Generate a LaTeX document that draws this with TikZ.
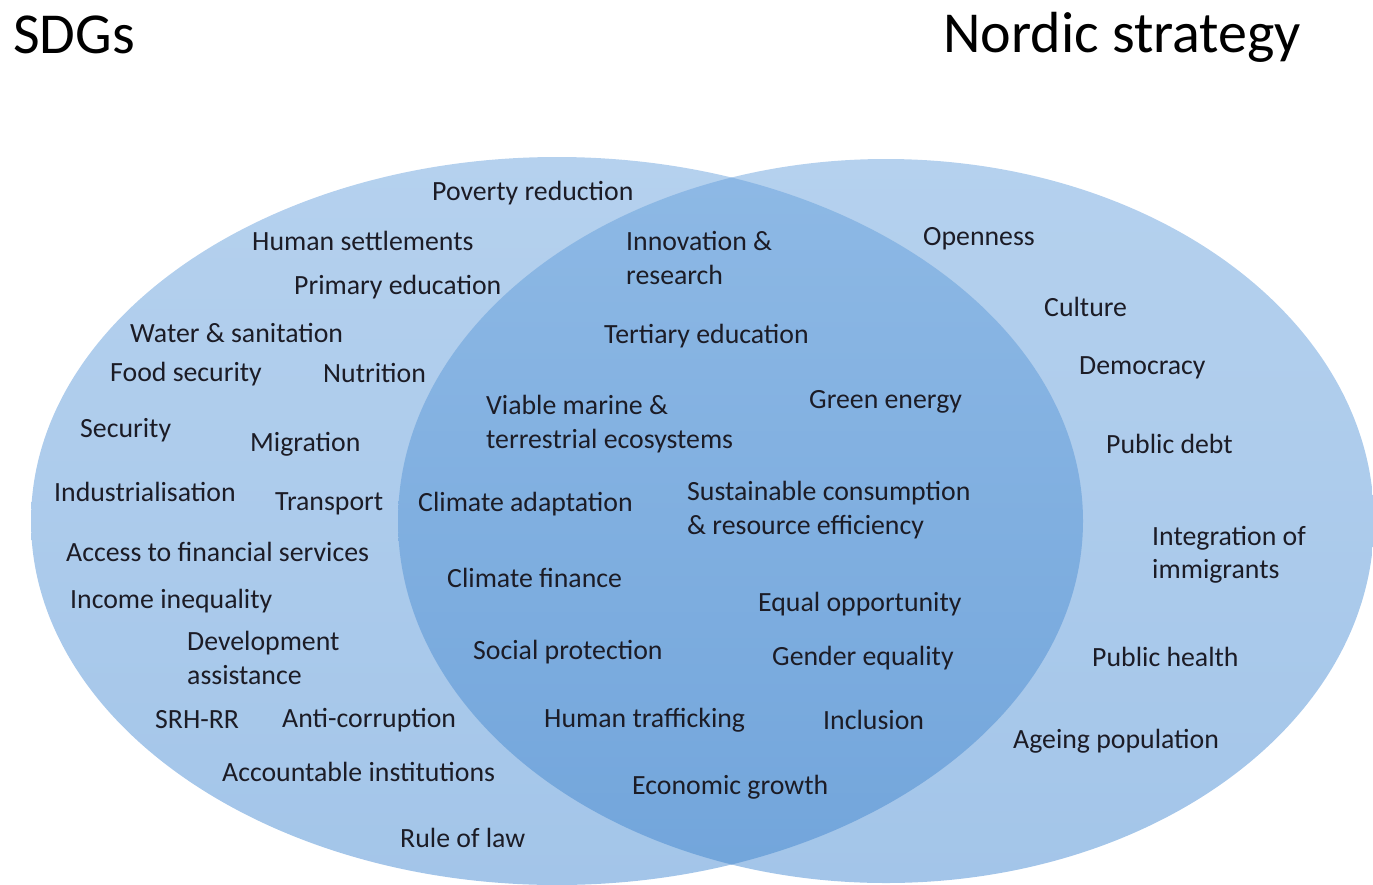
\documentclass[tikz,border=0pt]{standalone}
\usepackage{fontspec}
\setmainfont{Carlito}
\definecolor{lefttop}{RGB}{181,209,238}
\definecolor{leftbot}{RGB}{163,197,233}
\definecolor{midtop}{RGB}{142,185,229}
\definecolor{midbot}{RGB}{114,165,219}
\definecolor{txt}{RGB}{28,28,38}
\begin{document}
\begin{tikzpicture}[x=1pt,y=-1pt,
  lbl/.style={anchor=west,inner sep=0pt,font=\fontsize{27.8}{33.5}\selectfont,text=txt,align=left},
  ttl/.style={anchor=west,inner sep=0pt,font=\fontsize{58}{62}\selectfont,text=black}]
\useasboundingbox (0,0) rectangle (1373,884);
% ellipses
\path[top color=lefttop,bottom color=leftbot] (557,521) ellipse [x radius=526pt,y radius=364pt];
\path[top color=lefttop,bottom color=leftbot] (886,521) ellipse [x radius=488pt,y radius=362pt];
\begin{scope}
  \clip (557,521) ellipse [x radius=526pt,y radius=364pt];
  \path[top color=midtop,bottom color=midbot] (886,521) ellipse [x radius=488pt,y radius=362pt];
\end{scope}
% titles
\node[ttl] (sdg) at (13,35) {SDGs};
\node[ttl] (nor) at (943,37) {Nordic strategy};
% left only
\node[lbl] (pov) at (432,193) {Poverty reduction};
\node[lbl] (hum) at (252,241) {Human settlements};
\node[lbl] (pri) at (294,287) {Primary education};
\node[lbl] (wat) at (130,333) {Water \& sanitation};
\node[lbl] (foo) at (110,374) {Food security};
\node[lbl] (nut) at (323,373) {Nutrition};
\node[lbl] (sec) at (80,430) {Security};
\node[lbl] (mig) at (250,444) {Migration};
\node[lbl] (ind) at (54,492) {Industrialisation};
\node[lbl] (tra) at (275,504) {Transport};
\node[lbl] (acc) at (66,552) {Access to financial services};
\node[lbl] (inc) at (70,601) {Income inequality};
\node[lbl] (dev) at (187,658) {Development\\assistance};
\node[lbl] (srh) at (155,720) {SRH-RR};
\node[lbl] (ant) at (282,720) {Anti-corruption};
\node[lbl] (aci) at (222,772) {Accountable institutions};
\node[lbl] (rul) at (400,838) {Rule of law};
% overlap
\node[lbl] (inn) at (626,258) {Innovation \&\\research};
\node[lbl] (ter) at (604,336) {Tertiary education};
\node[lbl] (via) at (486,424) {Viable marine \&\\terrestrial ecosystems};
\node[lbl] (gre) at (809,402) {Green energy};
\node[lbl] (cad) at (418,504) {Climate adaptation};
\node[lbl] (sus) at (687,510) {Sustainable consumption\\\& resource efficiency};
\node[lbl] (cfi) at (447,578) {Climate finance};
\node[lbl] (equ) at (758,604) {Equal opportunity};
\node[lbl] (soc) at (473,652) {Social protection};
\node[lbl] (gen) at (772,658) {Gender equality};
\node[lbl] (htr) at (544,720) {Human trafficking};
\node[lbl] (icl) at (823,720) {Inclusion};
\node[lbl] (eco) at (632,787) {Economic growth};
% right only
\node[lbl] (ope) at (923,239) {Openness};
\node[lbl] (cul) at (1044,307) {Culture};
\node[lbl] (dem) at (1079,368) {Democracy};
\node[lbl] (pub) at (1106,444) {Public debt};
\node[lbl] (int) at (1152,555) {Integration of\\immigrants};
\node[lbl] (phe) at (1092,657) {Public health};
\node[lbl] (age) at (1013,741) {Ageing population};
\end{tikzpicture}
\end{document}
